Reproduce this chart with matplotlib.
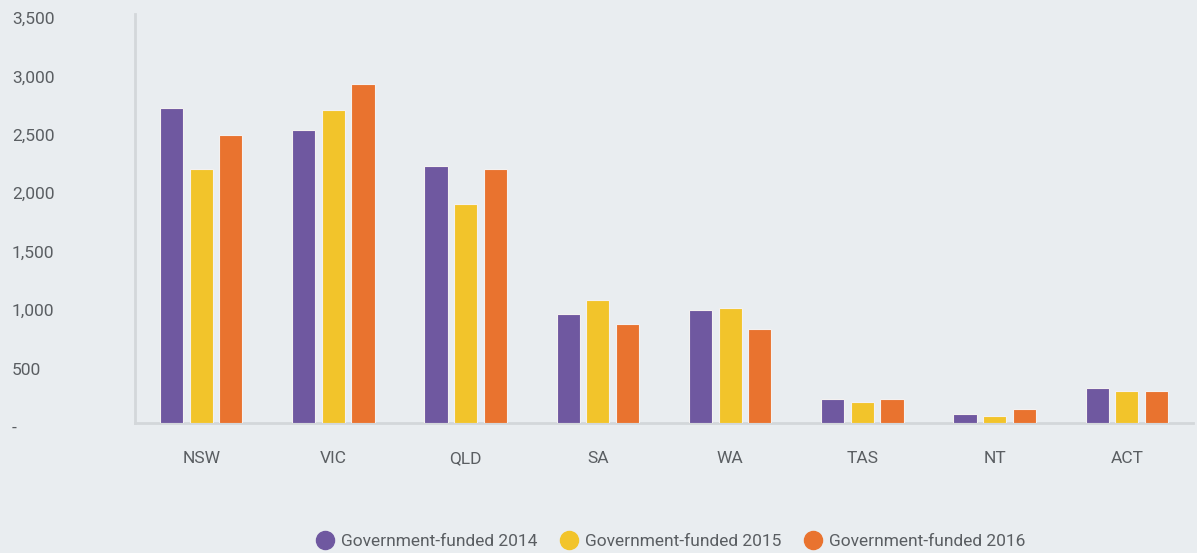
import matplotlib
matplotlib.use("Agg")
import matplotlib.pyplot as plt
from matplotlib.lines import Line2D
from matplotlib.transforms import ScaledTranslation
import numpy as np

categories = ["NSW", "VIC", "QLD", "SA", "WA", "TAS", "NT", "ACT"]
series_names = ["Government-funded 2014", "Government-funded 2015", "Government-funded 2016"]
values_2014 = [2696, 2505, 2198, 936, 970, 207, 75, 296]
values_2015 = [2173, 2679, 1873, 1053, 981, 182, 56, 270]
values_2016 = [2461, 2904, 2170, 850, 801, 204, 122, 270]
y_ticks = [0, 500, 1000, 1500, 2000, 2500, 3000, 3500]
y_tick_labels = ["-", "500", "1,000", "1,500", "2,000", "2,500", "3,000", "3,500"]

colors = ["#6F58A0", "#F2C42B", "#E9732F"]
bg = "#E9EDF0"
text_col = "#5A5E62"
axis_col = "#D3D7DA"

plt.rcParams['font.family'] = ['Roboto', 'DejaVu Sans']

W, H = 1197, 553
fig = plt.figure(figsize=(W / 100, H / 100), dpi=100, facecolor=bg)
ax = fig.add_axes([135 / W, (H - 423) / H, (1193 - 135) / W, (423 - 14) / H])
ax.set_facecolor(bg)

x = np.arange(len(categories))
bw = 0.174
step = 0.224
for i, vals in enumerate([values_2014, values_2015, values_2016]):
    ax.bar(x + (i - 1) * step, vals, width=bw, color=colors[i],
           edgecolor="#F4F1F0", linewidth=0.8, zorder=3)

ax.set_xlim(-0.5, len(categories) - 0.5)
ax.set_ylim(0, 3500)
ax.set_yticks(y_ticks)
ax.set_yticklabels(y_tick_labels)
ax.set_xticks(x)
ax.set_xticklabels(categories)

for s in ["top", "right"]:
    ax.spines[s].set_visible(False)
for s in ["left", "bottom"]:
    ax.spines[s].set_color(axis_col)
    ax.spines[s].set_linewidth(2)

ax.tick_params(axis="y", length=0, pad=123 * 0.72, labelsize=12.5, labelcolor=text_col)
ax.tick_params(axis="x", length=0, pad=20, labelsize=12.5, labelcolor=text_col)
for lab in ax.get_yticklabels():
    lab.set_horizontalalignment("left")
    lab.set_transform(lab.get_transform() + ScaledTranslation(0, -4 / 100, fig.dpi_scale_trans))

handles = [Line2D([0], [0], marker="o", linestyle="none", markersize=13,
                  markerfacecolor=c, markeredgecolor=c) for c in colors]
fig.legend(handles, series_names, loc="center", bbox_to_anchor=(670 / W, 1 - 541 / H),
           ncol=3, frameon=False, fontsize=12.5, labelcolor=text_col,
           handletextpad=0.35, columnspacing=1.2, handlelength=1.2)

fig.savefig("out.png", dpi=100, facecolor=bg)
